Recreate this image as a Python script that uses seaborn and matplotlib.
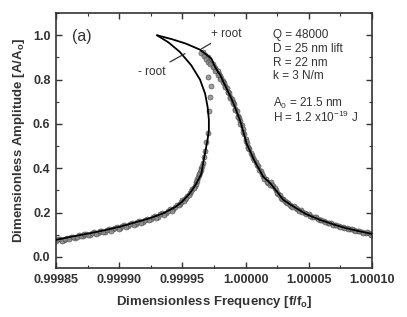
import matplotlib
matplotlib.use("Agg")
import matplotlib.pyplot as plt
import numpy as np
import pandas as pd
import seaborn as sns
from matplotlib.ticker import MultipleLocator, FormatStrFormatter

# solid model curves
plus_freq = [0.999930, 0.999942, 0.999953, 0.999964, 0.999973, 0.999976, 0.999980, 0.999985,
             0.999990, 0.999996, 1.000001, 1.000007, 1.000014, 1.000020, 1.000030, 1.000038,
             1.000048, 1.000059, 1.000070, 1.000080, 1.000090, 1.000100]
plus_amp = [1.000, 0.982, 0.962, 0.935, 0.895, 0.855, 0.820, 0.760,
            0.700, 0.610, 0.510, 0.435, 0.362, 0.330, 0.257, 0.227,
            0.193, 0.167, 0.146, 0.129, 0.116, 0.104]

minus_freq = [0.999930, 0.999939, 0.999948, 0.999957, 0.999964, 0.999968, 0.999970, 0.999971,
              0.999971, 0.999970, 0.999969, 0.999967, 0.999965, 0.999961, 0.999956, 0.999950,
              0.999945, 0.999935, 0.999924, 0.999912, 0.999901, 0.999889, 0.999877, 0.999863,
              0.999850]
minus_amp = [1.000, 0.968, 0.925, 0.865, 0.800, 0.737, 0.677, 0.620,
             0.572, 0.530, 0.500, 0.440, 0.375, 0.330, 0.287, 0.250,
             0.227, 0.197, 0.174, 0.155, 0.137, 0.121, 0.107, 0.092,
             0.077]

# measured points, first sweep
sweep1_freq = [
    0.999850, 0.999853, 0.999856, 0.999859, 0.999862, 0.999865, 0.999868, 0.999871,
    0.999874, 0.999877, 0.999880, 0.999883, 0.999886, 0.999889, 0.999892, 0.999895,
    0.999898, 0.999901, 0.999904, 0.999907, 0.999910, 0.999913, 0.999916, 0.999919,
    0.999922, 0.999925, 0.999928, 0.999931, 0.999934, 0.999937, 0.999940, 0.999943,
    0.999946, 0.999948, 0.999950, 0.999952, 0.999954, 0.999956, 0.999958, 0.999960,
    0.999961, 0.999962, 0.999963, 0.999964, 0.999965, 0.999966, 0.999967, 0.999968,
    0.999969, 0.999970, 0.999971, 0.999972, 0.999973, 0.999970,
    0.999966, 0.999968, 0.999970, 0.999971, 0.999972, 0.999973, 0.999974, 0.999975,
    0.999976, 0.999977, 0.999978, 0.999979, 0.999980, 0.999981, 0.999982, 0.999983,
    0.999984, 0.999985, 0.999986, 0.999987, 0.999988, 0.999989, 0.999990, 0.999991,
    0.999992, 0.999993, 0.999994, 0.999995, 0.999996, 0.999997, 0.999998, 0.999999,
    1.000000, 1.000001, 1.000002, 1.000003, 1.000005, 1.000006, 1.000008, 1.000010,
    1.000012, 1.000014, 1.000016, 1.000018,
    1.000020, 1.000022, 1.000024, 1.000026, 1.000028, 1.000030, 1.000032, 1.000034,
    1.000036, 1.000038, 1.000041, 1.000044, 1.000047, 1.000050, 1.000053, 1.000056,
    1.000059, 1.000062, 1.000065, 1.000068, 1.000071, 1.000074, 1.000077, 1.000080,
    1.000083, 1.000086, 1.000089, 1.000092, 1.000095, 1.000098, 1.000100,
]
sweep1_amp = [
    0.072, 0.082, 0.075, 0.086, 0.088, 0.084, 0.097, 0.094,
    0.103, 0.101, 0.112, 0.108, 0.118, 0.114, 0.126, 0.124,
    0.133, 0.131, 0.143, 0.139, 0.152, 0.150, 0.161, 0.158,
    0.173, 0.171, 0.184, 0.182, 0.199, 0.197, 0.214, 0.216,
    0.233, 0.240, 0.256, 0.262, 0.277, 0.290, 0.305, 0.322,
    0.340, 0.352, 0.368, 0.385, 0.400, 0.425, 0.450, 0.480,
    0.520, 0.560, 0.660, 0.720, 0.770, 0.810,
    0.925, 0.912, 0.902, 0.890, 0.886, 0.874, 0.870, 0.858,
    0.854, 0.842, 0.838, 0.826, 0.818, 0.808, 0.793, 0.786,
    0.770, 0.762, 0.746, 0.739, 0.723, 0.714, 0.698, 0.688,
    0.668, 0.657, 0.638, 0.627, 0.615, 0.595, 0.578, 0.556,
    0.534, 0.512, 0.498, 0.486, 0.462, 0.448, 0.428, 0.410,
    0.386, 0.366, 0.350, 0.334,
    0.338, 0.318, 0.300, 0.284, 0.268, 0.262, 0.248, 0.244,
    0.231, 0.230, 0.214, 0.210, 0.197, 0.192, 0.181, 0.178,
    0.168, 0.163, 0.155, 0.152, 0.143, 0.141, 0.133, 0.131,
    0.124, 0.122, 0.115, 0.114, 0.107, 0.108, 0.100,
]

# measured points, second sweep
sweep2_freq = [
    0.9998515, 0.9998545, 0.9998575, 0.9998605, 0.9998635, 0.9998665, 0.9998695, 0.9998725,
    0.9998755, 0.9998785, 0.9998815, 0.9998845, 0.9998875, 0.9998905, 0.9998935, 0.9998965,
    0.9998995, 0.9999025, 0.9999055, 0.9999085, 0.9999115, 0.9999145, 0.9999175, 0.9999205,
    0.9999235, 0.9999265, 0.9999295, 0.9999325, 0.9999355, 0.9999385, 0.9999415, 0.9999445,
    0.9999470, 0.9999490, 0.9999510, 0.9999530, 0.9999550, 0.9999570, 0.9999590, 0.9999605,
    0.9999615, 0.9999625, 0.9999635, 0.9999645, 0.9999655,
    0.999965, 0.999967, 0.999969, 0.999970, 0.999972, 0.999974, 0.999976, 0.999978,
    0.999980, 0.999982, 0.999984, 0.999986, 0.999988, 0.999990, 0.999992, 0.999994,
    0.999996, 0.999998, 1.000000, 1.000002, 1.000004, 1.000007, 1.000009, 1.000011,
    1.000013, 1.000015, 1.000017, 1.000019,
    1.000021, 1.000023, 1.000025, 1.000027, 1.000029, 1.000031, 1.000033, 1.000035,
    1.000037, 1.000040, 1.000042, 1.000045, 1.000048, 1.000051, 1.000054, 1.000057,
    1.000060, 1.000063, 1.000066, 1.000069, 1.000072, 1.000075, 1.000078, 1.000081,
    1.000084, 1.000087, 1.000090, 1.000093, 1.000096, 1.000099,
]
sweep2_amp = [
    0.080, 0.070, 0.083, 0.079, 0.092, 0.089, 0.093, 0.102,
    0.098, 0.110, 0.104, 0.117, 0.111, 0.123, 0.119, 0.132,
    0.128, 0.140, 0.135, 0.148, 0.145, 0.157, 0.153, 0.168,
    0.165, 0.179, 0.177, 0.192, 0.190, 0.208, 0.205, 0.226,
    0.233, 0.246, 0.251, 0.268, 0.280, 0.298, 0.310, 0.330,
    0.343, 0.360, 0.375, 0.393, 0.410,
    0.918, 0.905, 0.895, 0.880, 0.870, 0.855, 0.840, 0.822,
    0.805, 0.788, 0.765, 0.742, 0.718, 0.695, 0.662, 0.632,
    0.600, 0.565, 0.525, 0.492, 0.468, 0.438, 0.415, 0.392,
    0.372, 0.352, 0.338, 0.326,
    0.325, 0.312, 0.290, 0.279, 0.262, 0.252, 0.243, 0.235,
    0.226, 0.220, 0.208, 0.204, 0.192, 0.186, 0.179, 0.172,
    0.166, 0.158, 0.153, 0.146, 0.142, 0.136, 0.132, 0.126,
    0.125, 0.117, 0.118, 0.109, 0.112, 0.101,
]

params = ["Q = 48000", "D = 25 nm lift", "R = 22 nm", "k = 3 N/m", "",
          r"A$_0$ = 21.5 nm", r"H = 1.2 x10$^{-19}$ J"]

sns.set_style("ticks")
plt.rcParams["font.family"] = ["Liberation Sans", "DejaVu Sans"]
plt.rcParams["mathtext.default"] = "regular"

fig = plt.figure(figsize=(4.07, 3.17), dpi=100)
ax = fig.add_axes([0.1376, 0.1546, 0.776, 0.804])

pts = pd.DataFrame({"f": sweep1_freq + sweep2_freq, "A": sweep1_amp + sweep2_amp})
sns.scatterplot(data=pts, x="f", y="A", ax=ax, s=13, color="#8c8c8c",
                edgecolor="#4a4a4a", linewidth=0.5, alpha=0.85, zorder=2)
sns.lineplot(x=plus_freq, y=plus_amp, ax=ax, sort=False, estimator=None,
             color="black", linewidth=1.3, zorder=3)
sns.lineplot(x=minus_freq, y=minus_amp, ax=ax, sort=False, estimator=None,
             color="black", linewidth=1.3, zorder=3)

ax.set_xlim(0.99985, 1.00010)
ax.set_ylim(-0.05, 1.1)
ax.xaxis.set_major_locator(MultipleLocator(0.00005))
ax.xaxis.set_minor_locator(MultipleLocator(0.000025))
ax.xaxis.set_major_formatter(FormatStrFormatter("%.5f"))
ax.yaxis.set_major_locator(MultipleLocator(0.2))
ax.yaxis.set_minor_locator(MultipleLocator(0.1))
ax.yaxis.set_major_formatter(FormatStrFormatter("%.1f"))
ax.tick_params(which="both", direction="in", top=True, right=True, color="#333333")
ax.tick_params(which="major", length=4, width=1, labelsize=9, pad=4)
ax.tick_params(which="minor", length=2.5, width=0.8)
for lbl in ax.get_xticklabels() + ax.get_yticklabels():
    lbl.set_fontweight("bold")
    lbl.set_color("#333333")
for sp in ax.spines.values():
    sp.set_linewidth(1.2)
    sp.set_color("#333333")

ax.set_xlabel(r"Dimensionless Frequency [f/f$_o$]", fontsize=9.5, fontweight="bold",
              color="#333333", labelpad=6)
ax.set_ylabel(r"Dimensionless Amplitude [A/A$_o$]", fontsize=9.5, fontweight="bold",
              color="#333333", labelpad=4)

ax.text(0.05, 0.91, "(a)", transform=ax.transAxes, fontsize=11.5, color="#333333", va="center")

for i, line in enumerate(params):
    ax.text(0.687, 0.914 - i * 0.054, line, transform=ax.transAxes, fontsize=8.5,
            color="#333333", va="center")

ax.annotate("+ root", xy=(0.999964, 0.935), xytext=(0.999973, 1.005), fontsize=8.5,
            color="#333333", va="center",
            arrowprops=dict(arrowstyle="-", color="#333333", lw=0.9, shrinkA=0, shrinkB=1))
ax.annotate("- root", xy=(0.999953, 0.92), xytext=(0.999915, 0.835), fontsize=8.5,
            color="#333333", va="center",
            arrowprops=dict(arrowstyle="-", color="#333333", lw=0.9, shrinkA=1, shrinkB=1))

fig.savefig("out.png", dpi=100)
